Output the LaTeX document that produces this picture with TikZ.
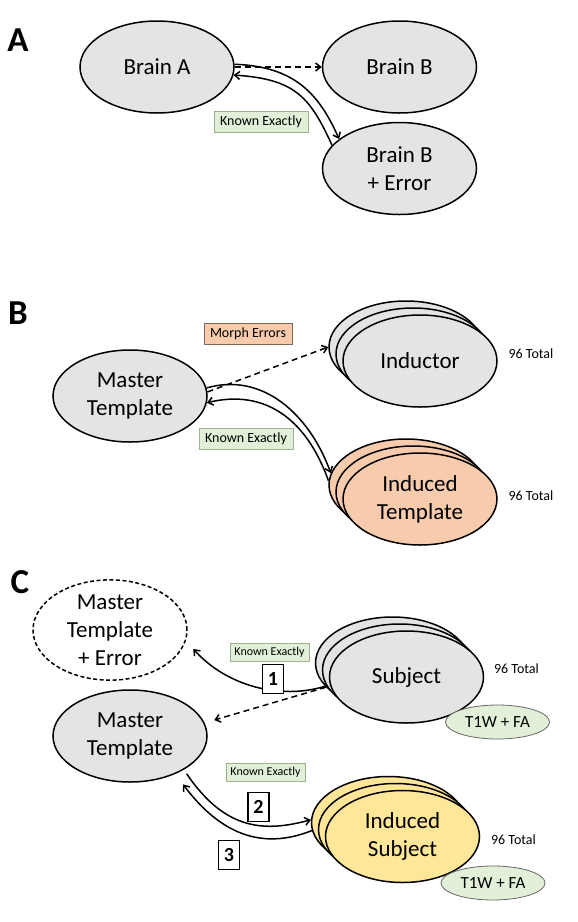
\documentclass[tikz,border=0pt]{standalone}
\usepackage{fontspec}
\setmainfont{Carlito}
\usetikzlibrary{shapes.geometric,arrows.meta}
\definecolor{elgray}{HTML}{E4E4E4}
\definecolor{salmon}{HTML}{F8CBAD}
\definecolor{yel}{HTML}{FFE699}
\definecolor{lgreen}{HTML}{E2EFD9}
\definecolor{gborder}{HTML}{9DB38F}
\definecolor{sborder}{HTML}{7F6A5E}
\tikzset{
  big/.style={ellipse, draw, line width=1.5pt, minimum width=154pt, minimum height=92pt, inner sep=0pt, align=center, fill=elgray, font=\fontsize{23}{28}\selectfont},
  tag/.style={draw=gborder, fill=lgreen, line width=0.8pt, font=\fontsize{14}{16}\selectfont, minimum width=94pt, minimum height=21pt, inner sep=0pt},
  smalltag/.style={tag, font=\fontsize{12}{14}\selectfont, minimum width=79pt, minimum height=18pt},
  numbox/.style={draw, fill=white, line width=1.1pt, font=\bfseries\fontsize{20}{24}\selectfont, minimum width=21pt, minimum height=29pt, inner sep=0pt},
  panel/.style={font=\bfseries\fontsize{35}{40}\selectfont, inner sep=0pt},
  tot/.style={font=\fontsize{14}{16}\selectfont, inner sep=0pt},
  scan/.style={ellipse, draw=gray!80!black, fill=lgreen, line width=0.8pt, minimum width=104pt, minimum height=34pt, inner sep=0pt, font=\fontsize{17}{20}\selectfont},
  conn/.style={line width=1.5pt, -{Straight Barb[length=5pt,width=8pt]}},
  dconn/.style={conn, dash pattern=on 6pt off 4pt},
}
\begin{document}
\begin{tikzpicture}[x=1pt,y=-1pt]
\useasboundingbox (0,0) rectangle (578,922);

% ---------------- Panel A
\node[panel] (lA) at (18,40) {A};
\node[big] (bA) at (157,67) {Brain A};
\node[big] (bB) at (399.5,67) {Brain B};
\node[big] (bBE) at (399.5,168.5) {Brain B\\+ Error};
\node[tag] (kA) at (261,121.5) {Known Exactly};
\draw[dconn] (bA.east) -- (bB.west);
\draw[conn] (bA.2) .. controls +(60,2) and +(-20,-45) .. (bBE.154);
\draw[conn] (bBE.161) .. controls +(-22,-48) and +(62,4) .. (bA.-6);

% ---------------- Panel B
\node[panel] (lB) at (18,313) {B};
\node[draw=sborder, fill=salmon, line width=0.8pt, font=\fontsize{14}{16}\selectfont, minimum width=88pt, minimum height=21pt, inner sep=0pt] (me) at (248,333.5) {Morph Errors};
\node[big] (mT) at (130,396) {Master\\Template};
\node[tag] (kB) at (246,438.5) {Known Exactly};
\node[big] (in1) at (406,347) {};
\node[big] (in2) at (413,354) {};
\node[big] (in3) at (420,361) {Inductor};
\node[tot] (t1) at (531,354) {96 Total};
\node[big, fill=salmon] (it1) at (406,485) {};
\node[big, fill=salmon] (it2) at (413,492) {};
\node[big, fill=salmon] (it3) at (420,499) {Induced\\Template};
\node[tot] (t2) at (531,496) {96 Total};
\draw[dconn] (mT.3) -- (in1.180);
\draw[conn] (mT.6) .. controls +(55,-16) and +(-22,-60) .. (it1.171);
\draw[conn] (it1.177) .. controls +(-22,-62) and +(58,-14) .. (mT.-5);

% ---------------- Panel C
\node[panel] (lC) at (20,582) {C};
\node[big, fill=white, dash pattern=on 4pt off 2.5pt] (mTE) at (110,630) {Master\\Template\\+ Error};
\node[big] (mT2) at (130,736) {Master\\Template};
\node[big] (s1) at (392.5,663) {};
\node[big] (s2) at (399.5,670) {};
\node[big] (s3) at (406.5,677) {Subject};
\node[tot] (t3) at (516.5,669) {96 Total};
\node[scan] (sc1) at (497.5,722) {T1W + FA};
\node[big, fill=yel] (is1) at (388.5,822.5) {};
\node[big, fill=yel] (is2) at (395.5,829.5) {};
\node[big, fill=yel] (is3) at (402.5,836.5) {Induced\\Subject};
\node[tot] (t4) at (513.5,840) {96 Total};
\node[scan] (sc2) at (493,883) {T1W + FA};
\node[smalltag] (kC1) at (269.5,652) {Known Exactly};
\node[smalltag] (kC2) at (265.5,772.5) {Known Exactly};
\draw[dconn, shorten >=10pt] (s1.200) -- (mT2.10);
\draw[conn, shorten >=11pt] (s1.199) .. controls +(-45,14) and +(40,45) .. (mTE.-8);
\draw[conn, shorten <=5pt] (mT2.-32) .. controls +(42,62) and +(-45,12) .. (is1.178);
\draw[conn, shorten >=13pt] (is1.186) .. controls +(-50,20) and +(45,60) .. (mT2.-40);
\node[numbox] (n1) at (273,679) {1};
\node[numbox] (n2) at (258.5,807) {2};
\node[numbox] (n3) at (229,855) {3};
\end{tikzpicture}
\end{document}
